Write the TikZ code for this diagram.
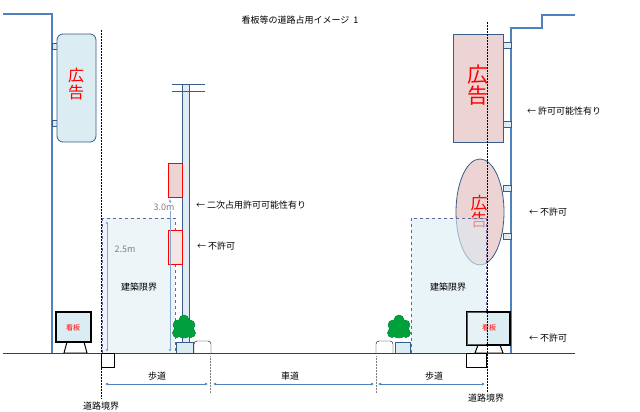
\documentclass[tikz,border=0pt]{standalone}
\usepackage{fontspec}
\newfontfamily\jp{Noto Sans CJK JP}
\usetikzlibrary{arrows.meta}
\definecolor{bl}{RGB}{79,129,189}
\definecolor{dbl}{RGB}{56,93,138}
\definecolor{lb}{RGB}{219,236,243}
\definecolor{pk}{RGB}{237,212,212}
\definecolor{gr}{RGB}{0,160,60}
\begin{document}
\begin{tikzpicture}[x=1pt,y=-1pt,font=\jp\fontsize{9}{10}\selectfont,
  bld/.style={draw=bl,line width=1.3pt},
  brk/.style={draw=dbl,fill=lb,line width=0.6pt},
  dots/.style={densely dotted,black,line width=0.5pt},
  dim/.style={draw=bl,{Latex[length=3pt,width=3pt]}-{Latex[length=3pt,width=3pt]},line width=0.6pt},
  red/.style={text=red},
  lbl/.style={inner sep=0,anchor=west}]
\useasboundingbox (0,0) rectangle (640,412);
\node at (300,20) {看板等の道路占用イメージ\ \ 1};
% left building
\draw[bld] (3,14) -- (52,14) -- (52,353);
\draw[brk] (52,43) rectangle (57,49);
\draw[brk] (52,120) rectangle (57,126);
\draw[draw=dbl,fill=lb,rounded corners=6pt,line width=0.8pt] (57,34) rectangle (96,142);
\node[red,font=\jp\fontsize{16}{18}\selectfont,align=center] at (76,84) {広\\[-1pt]告};
% right building
\draw[bld] (575,15) -- (542,15) -- (542,28) -- (511,28) -- (511,353);
\draw[brk] (503,42) rectangle (511,48);
\draw[brk] (503,121) rectangle (511,127);
\draw[brk] (503,185) rectangle (511,191);
\draw[brk] (503,233) rectangle (511,239);
\draw[draw=dbl,fill=pk,line width=0.9pt] (453,34) rectangle (503,142);
\node[red,font=\jp\fontsize{21}{23}\selectfont,align=center] at (478,85) {広\\[-2pt]告};
\draw[draw=dbl,fill=pk,line width=0.8pt] (480,212) ellipse [x radius=24,y radius=53];
\node[red,font=\jp\fontsize{17}{19}\selectfont,align=center] at (479,212) {広\\[-2pt]告};
% clearance boxes
\fill[lb,opacity=0.5] (102,218) rectangle (175,353);
\draw[dashed,draw=gray!80!blue,line width=0.7pt] (102,218) rectangle (175,353);
\fill[lb,opacity=0.6] (411,218) rectangle (486,353);
\draw[dashed,draw=gray!80!blue,line width=0.7pt] (411,218) rectangle (486,353);
\node at (139,287) {建築限界};
\node at (448,287) {建築限界};
\draw[dim,draw=bl!70] (107,221) -- (107,352);
\node[text=gray] at (125,249) {2.5m};
% pole
\draw[draw=dbl,fill=lb!70!bl!40,line width=0.6pt] (182,84) rectangle (189,343);
\draw[dbl,line width=0.9pt] (172,84) -- (205,84) (172,91) -- (205,91);
\draw[draw=red,fill=pk,line width=1pt] (168,163) rectangle (182,197);
\draw[draw=red,fill=pk!60,line width=1pt] (168,230) rectangle (182,264);
\draw[dim,draw=bl!70] (170,199) -- (170,352);
\node[text=gray,fill=white,inner sep=0.5pt] at (164,207) {3.0m};
\node[lbl] at (196,205) {←\ 二次占用許可可能性有り};
\node[lbl] at (197,246) {←\ 不許可};
\node[lbl] at (527,111) {←\ 許可可能性有り};
\node[lbl] at (529,212) {←\ 不許可};
\node[lbl] at (529,338) {←\ 不許可};
% left kanban
\draw[black,line width=1pt,fill=white] (64,353) -- (67,342) -- (84,342) -- (87,353) -- cycle;
\draw[black,line width=1.2pt,fill=lb] (56,312) rectangle (91,342);
\node[red,font=\jp\fontsize{7}{8}\selectfont] at (73,328) {看板};
% right kanban
\draw[black,line width=1pt,fill=white] (475,353) -- (478,345) -- (500,345) -- (503,353) -- cycle;
\draw[black,line width=1.2pt,fill=lb] (467,312) rectangle (510,345);
\fill[white,opacity=0.35] (467,312) rectangle (486,345);
\node[red,font=\jp\fontsize{7}{8}\selectfont] at (489,328) {看板};
% bushes, bases, curbs
\foreach \bx in {184,399}{
  \fill[gr,draw=gr!60!black,line width=0.4pt] (\bx,330) circle (8) (\bx-6,325) circle (5) (\bx+6,325) circle (5) (\bx,320) circle (5) (\bx-7,333) circle (4.5) (\bx+7,333) circle (4.5);
  \fill[gr] (\bx,330) circle (8) (\bx-6,325) circle (5) (\bx+6,325) circle (5) (\bx,320) circle (5) (\bx-7,333) circle (4.5) (\bx+7,333) circle (4.5);
}
\draw[draw=dbl,fill=lb,line width=0.8pt] (176,342) rectangle (193,353);
\draw[draw=dbl,fill=lb,line width=0.8pt] (395,342) rectangle (410,353);
\draw[black,fill=white,rounded corners=3pt] (194,353) -- (194,341) -- (211,341) -- (211,353);
\draw[black,fill=white,rounded corners=3pt] (376,353) -- (376,341) -- (393,341) -- (393,353);
% ground
\draw[black!75,line width=0.8pt] (3,353) -- (575,353);
\draw[black,fill=white] (101,353) rectangle (114,367);
\draw[black,fill=white] (466,353) rectangle (486,367);
% boundaries
\draw[dots] (101,30) -- (101,398);
\draw[dots] (487,22) -- (487,392);
\draw[dots,gray] (210,356) -- (210,393);
\draw[dots,gray] (376,356) -- (376,393);
\draw[dim] (105,384) -- (208,384);
\draw[dim] (213,384) -- (374,384);
\draw[dim] (378,384) -- (485,384);
\node at (157,376) {歩道};
\node at (290,376) {車道};
\node at (434,376) {歩道};
\node at (101,406) {道路境界};
\node at (486,398) {道路境界};
\end{tikzpicture}
\end{document}
